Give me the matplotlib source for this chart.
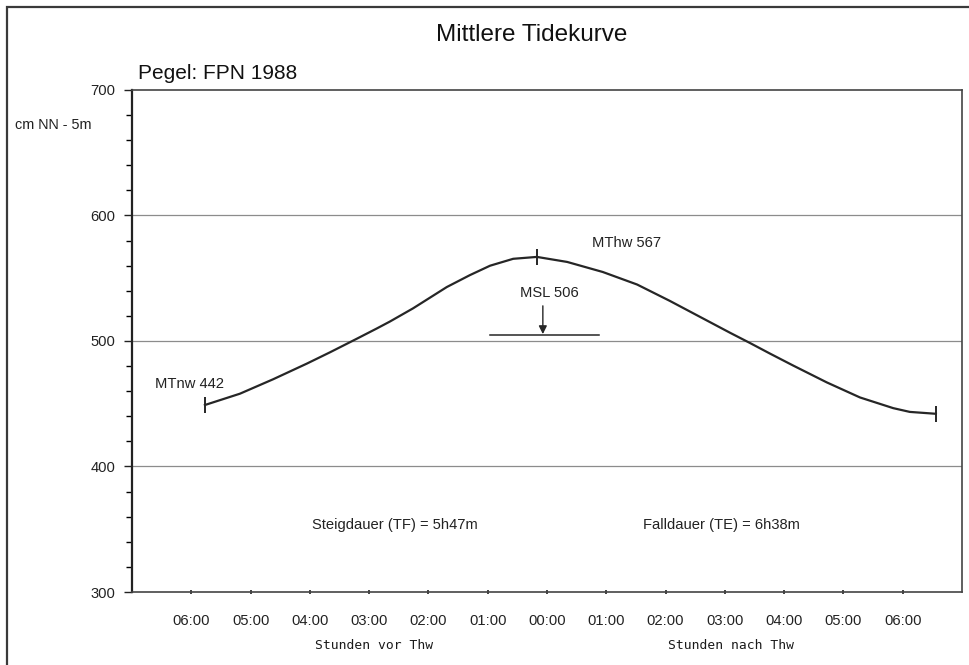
import numpy as np
import matplotlib
matplotlib.use("Agg")
import matplotlib.pyplot as plt
from matplotlib.patches import Rectangle
from matplotlib.ticker import MultipleLocator, FixedLocator

plt.rcParams['font.family'] = ['Liberation Sans', 'DejaVu Sans']

# mittlere Tidekurve, Stunden relativ zu Thw, Wasserstand in cm
hours = [-5.77, -5.18, -4.62, -4.05, -3.66, -3.20, -2.87, -2.65, -2.26, -1.69,
         -1.30, -0.96, -0.57, -0.17, 0.34, 0.94, 1.52, 2.07, 2.63, 3.09,
         3.42, 3.76, 4.15, 4.72, 5.28, 5.84, 6.12, 6.56]
level = [449, 458, 469.5, 482, 491, 502, 510, 515.5, 526, 543,
         552.5, 560, 565.5, 567, 563, 555, 545, 532, 518, 506.5,
         498.5, 490, 480.5, 467, 455, 446.5, 443.5, 442]

mark_h = [-5.77, -0.17, 6.56]     # MTnw, MThw, naechstes Tnw
mark_v = [449, 567, 442]

msl = 505
msl_from, msl_to = -0.96, 0.88
msl_arrow_h = -0.07

tick_pos = [-6, -5, -4, -3, -2, -1, 0, 1, 2, 3, 4, 5, 6]
tick_lab = ["06:00", "05:00", "04:00", "03:00", "02:00", "01:00", "00:00",
            "01:00", "02:00", "03:00", "04:00", "05:00", "06:00"]

W, H = 969, 665
fig = plt.figure(figsize=(W / 100, H / 100), dpi=100)
fig.patch.set_facecolor("white")

# aeusserer Rahmen
fig.patches.append(Rectangle((7 / W, -0.1), 1.2, 1 - 7 / H + 0.1, transform=fig.transFigure,
                             fill=False, ec="#3a3a3a", lw=1.6, clip_on=False))

ax = fig.add_axes([132 / W, 1 - 592 / H, (962 - 132) / W, (592 - 90) / H])
ax.set_xlim(-7, 7)
ax.set_ylim(300, 700)

for g in [400, 500, 600]:
    ax.axhline(g, color="#8c8c8c", lw=0.9, zorder=1)

ax.plot(hours, level, color="#262626", lw=1.6, zorder=3, solid_joinstyle="round")
ax.plot(mark_h, mark_v, ls="none", marker="|", ms=11, mew=1.4, color="#262626", zorder=4)

ax.plot([msl_from, msl_to], [msl, msl], color="#262626", lw=1.1, zorder=3)
ax.annotate("", xy=(msl_arrow_h, msl + 0.5), xytext=(msl_arrow_h, 528),
            arrowprops=dict(arrowstyle="-|>", color="#262626", lw=1.0,
                            mutation_scale=12, shrinkA=0, shrinkB=0))

fs = 10.6
ax.text(-6.61, 465.6, "MTnw 442", fontsize=fs, va="center", ha="left", color="#222")
ax.text(0.76, 578.4, "MThw 567", fontsize=fs, va="center", ha="left", color="#222")
ax.text(-0.455, 538.4, "MSL 506", fontsize=fs, va="center", ha="left", color="#222")
ax.text(-3.96, 353.6, "Steigdauer (TF) = 5h47m", fontsize=fs, va="center", ha="left", color="#222")
ax.text(1.62, 353.6, "Falldauer (TE) = 6h38m", fontsize=fs, va="center", ha="left", color="#222")

ax.xaxis.set_major_locator(FixedLocator(tick_pos))
ax.set_xticklabels(tick_lab)
ax.yaxis.set_major_locator(MultipleLocator(100))
ax.yaxis.set_minor_locator(MultipleLocator(20))
ax.tick_params(axis="x", direction="inout", length=3, width=1.2, pad=14,
               labelsize=10.6, colors="#222")
ax.tick_params(axis="y", which="major", length=6, width=1.0, pad=6,
               labelsize=10.6, colors="#222")
ax.tick_params(axis="y", which="minor", length=4, width=1.0)

ax.spines["left"].set_linewidth(1.6)
ax.spines["left"].set_color("#222")
for s in ["top", "bottom", "right"]:
    ax.spines[s].set_linewidth(1.2)
    ax.spines[s].set_color("#444")

xt = ax.get_xaxis_transform()
ax.text(-2.92, -0.106, "Stunden vor Thw", transform=xt, ha="center", va="center",
        family="DejaVu Sans Mono", fontsize=9.4, color="#1a1a1a")
ax.text(3.1, -0.106, "Stunden nach Thw", transform=xt, ha="center", va="center",
        family="DejaVu Sans Mono", fontsize=9.4, color="#1a1a1a")

fig.text(532 / W, 1 - 35 / H, "Mittlere Tidekurve", ha="center", va="center", fontsize=17.5, color="#111")
fig.text(138 / W, 1 - 73.5 / H, "Pegel: FPN 1988", ha="left", va="center", fontsize=15, color="#111")
fig.text(15 / W, 1 - 125 / H, "cm NN - 5m", ha="left", va="center", fontsize=10.4, color="#222")

fig.savefig("out.png", dpi=100)
